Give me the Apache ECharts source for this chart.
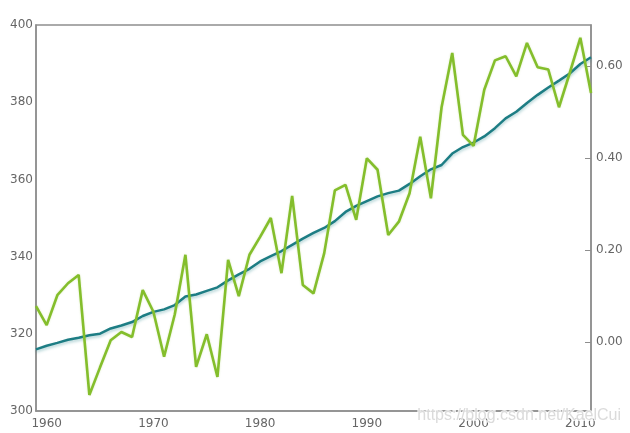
<!DOCTYPE html>
<html>
<head>
<meta charset="utf-8">
<script src="https://cdn.jsdelivr.net/npm/echarts@6/dist/echarts.min.js"></script>
<style>
  html, body { margin: 0; padding: 0; background: #fff; }
  #chart { width: 630px; height: 433px; }
</style>
</head>
<body>
<div id="chart"></div>
<script>
const years = [];
for (let y = 1959; y <= 2011; y++) years.push(String(y));

// CO2 concentration (ppm), left axis
const co2 = [
  315.97, 316.91, 317.64, 318.45, 318.99, 319.62, 320.04, 321.38, 322.16, 323.04,
  324.62, 325.68, 326.32, 327.45, 329.68, 330.18, 331.11, 332.04, 333.83, 335.40,
  336.84, 338.75, 340.11, 341.45, 343.05, 344.65, 346.12, 347.42, 349.19, 351.57,
  353.12, 354.39, 355.61, 356.45, 357.10, 358.83, 360.82, 362.61, 363.73, 366.70,
  368.38, 369.55, 371.14, 373.28, 375.80, 377.52, 379.80, 381.90, 383.79, 385.60,
  387.43, 389.90, 391.65
];

// temperature anomaly, right axis
const temp = [
  0.078, 0.037, 0.102, 0.128, 0.146, -0.115, -0.055, 0.004, 0.022, 0.011,
  0.113, 0.066, -0.032, 0.060, 0.190, -0.054, 0.017, -0.076, 0.179, 0.100,
  0.190, 0.229, 0.270, 0.150, 0.318, 0.124, 0.106, 0.193, 0.330, 0.342,
  0.266, 0.400, 0.375, 0.233, 0.262, 0.324, 0.447, 0.313, 0.511, 0.629,
  0.451, 0.427, 0.549, 0.613, 0.622, 0.578, 0.651, 0.598, 0.593, 0.511,
  0.585, 0.662, 0.542
];

const leftTicks = { min: 300, max: 400, interval: 20 };
const rightRange = { min: -0.15, max: 0.69 };

const axisGray = '#8e8e8e';
const labelGray = '#666';
const font = 'DejaVu Sans';

const chart = echarts.init(document.getElementById('chart'));

chart.setOption({
  backgroundColor: '#fff',
  animation: false,
  grid: {
    left: 36,
    right: 39,
    top: 25,
    bottom: 22,
    show: true,
    borderColor: axisGray,
    borderWidth: 1.5,
  },
  xAxis: {
    type: 'category',
    boundaryGap: false,
    data: years,
    axisLine: { onZero: false, lineStyle: { color: axisGray, width: 1.5 } },
    axisTick: { show: false },
    axisLabel: {
      interval: (i, v) => Number(v) % 10 === 0,
      color: labelGray,
      fontFamily: font,
      fontSize: 12,
      margin: 7,
    },
    splitLine: { show: false },
  },
  yAxis: [
    {
      type: 'value',
      min: leftTicks.min,
      max: leftTicks.max,
      interval: leftTicks.interval,
      axisLine: { show: true, lineStyle: { color: axisGray, width: 1.5 } },
      axisTick: { show: false },
      axisLabel: { color: labelGray, fontFamily: font, fontSize: 12, margin: 3 },
      splitLine: { show: false },
    },
    {
      type: 'value',
      min: rightRange.min,
      max: rightRange.max,
      position: 'right',
      axisLine: { show: true, lineStyle: { color: axisGray, width: 1.5 } },
      axisTick: { show: true, inside: true, length: 6, lineStyle: { color: axisGray } },
      axisLabel: {
        color: labelGray,
        fontFamily: font,
        fontSize: 12,
        margin: 5,
        showMinLabel: false,
        showMaxLabel: false,
        formatter: v => v.toFixed(2),
      },
      splitLine: { show: false },
    },
  ],
  series: [
    {
      name: 'CO2',
      type: 'line',
      yAxisIndex: 0,
      data: co2,
      showSymbol: false,
      lineStyle: {
        color: '#1d7d84',
        width: 2.5,
        shadowColor: 'rgba(29, 125, 132, 0.35)',
        shadowBlur: 3,
        shadowOffsetY: 2,
      },
      z: 2,
    },
    {
      name: 'Temperature',
      type: 'line',
      yAxisIndex: 1,
      data: temp,
      showSymbol: false,
      lineStyle: {
        color: '#84be2c',
        width: 2.6,
        shadowColor: 'rgba(132, 190, 44, 0.3)',
        shadowBlur: 2,
      },
      z: 3,
    },
  ],
  graphic: [
    {
      type: 'text',
      right: 8,
      bottom: 8,
      z: 10,
      style: {
        text: 'https://blog.csdn.net/KaelCui',
        fill: 'rgba(215, 215, 215, 0.9)',
        stroke: 'rgba(255, 255, 255, 0.8)',
        lineWidth: 2,
        fontFamily: 'Liberation Sans',
        fontSize: 16,
      },
    },
  ],
});
</script>
</body>
</html>
